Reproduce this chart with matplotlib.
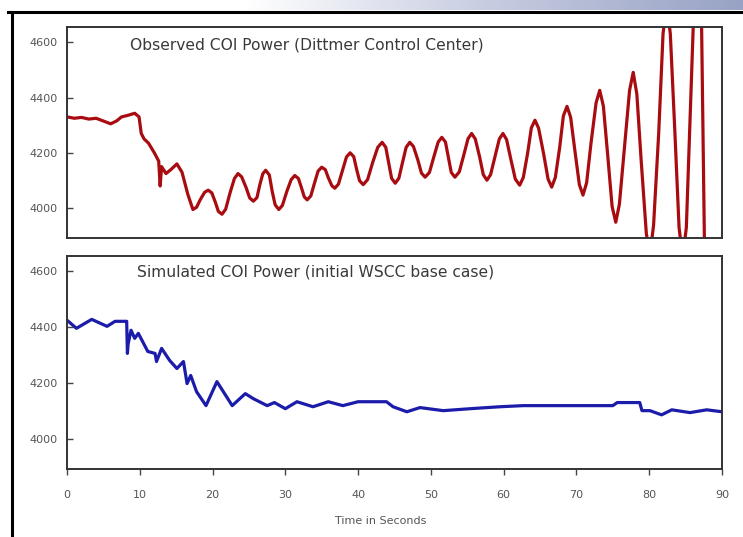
import matplotlib
matplotlib.use("Agg")
import matplotlib.pyplot as plt
from matplotlib.colors import LinearSegmentedColormap
import numpy as np

# ---- Data ----
obs_t = [0, 1, 2, 3, 4, 5, 6, 6.8, 7.5, 8.3, 9.3, 9.9, 10.2, 10.6, 11.2, 12.0, 12.6, 12.8, 13.0,
         13.6, 14.3, 15.1, 15.8, 16.6, 17.3, 17.8, 18.3, 18.9, 19.4, 19.9, 20.4, 20.8, 21.3,
         21.8, 22.4, 23.0, 23.5, 24.0, 24.6, 25.1, 25.6, 26.1, 26.5, 26.9, 27.3, 27.8, 28.2,
         28.6, 29.1, 29.6, 30.2, 30.8, 31.3, 31.8, 32.2, 32.6, 33.0, 33.5, 34.0, 34.5, 35.0,
         35.5, 35.9, 36.4, 36.8, 37.3, 37.9, 38.4, 38.9, 39.4, 39.8, 40.2, 40.7, 41.3, 42.0,
         42.7, 43.3, 43.8, 44.2, 44.6, 45.1, 45.6, 46.1, 46.6, 47.1, 47.6, 48.2, 48.7, 49.2,
         49.8, 50.4, 51.0, 51.5, 52.0, 52.4, 52.8, 53.3, 53.9, 54.5, 55.1, 55.6, 56.1, 56.7,
         57.2, 57.7, 58.2, 58.8, 59.4, 59.9, 60.4, 61.0, 61.6, 62.2, 62.7, 63.3, 63.8, 64.3,
         64.8, 65.5, 66.1, 66.6, 67.1, 67.7, 68.2, 68.7, 69.2, 69.8, 70.4, 70.9, 71.4, 72.0,
         72.7, 73.2, 73.7, 74.3, 74.9, 75.4, 75.9, 76.6, 77.3, 77.8, 78.3, 78.9, 79.6, 80.1,
         80.6, 81.3, 81.9, 82.4, 82.9, 83.5, 84.1, 84.6, 85.1, 86.3, 87.1, 87.6]
obs_p = [4330, 4325, 4328, 4322, 4325, 4315, 4305, 4315, 4330, 4335, 4343, 4330, 4270, 4250, 4235,
         4200, 4170, 4080, 4150, 4125, 4140, 4160, 4130, 4050, 3995, 4003, 4030, 4057, 4065,
         4055, 4020, 3988, 3978, 3996, 4055, 4107, 4125, 4113, 4075, 4037, 4025, 4038, 4085,
         4124, 4137, 4120, 4060, 4012, 3995, 4010, 4060, 4103, 4118, 4107, 4075, 4041, 4030,
         4044, 4090, 4134, 4148, 4139, 4110, 4081, 4072, 4087, 4140, 4185, 4200, 4186, 4140,
         4099, 4085, 4103, 4165, 4220, 4238, 4220, 4165, 4108, 4090, 4108, 4165, 4220, 4238,
         4223, 4175, 4127, 4112, 4129, 4185, 4239, 4256, 4239, 4185, 4129, 4112, 4131, 4190,
         4251, 4270, 4250, 4185, 4121, 4101, 4121, 4185, 4250, 4270, 4248, 4175, 4105, 4083,
         4111, 4200, 4290, 4318, 4289, 4195, 4105, 4076, 4111, 4220, 4333, 4368, 4329, 4205,
         4085, 4047, 4092, 4235, 4381, 4426, 4369, 4190, 4006, 3949, 4014, 4220, 4426, 4491,
         4412, 4170, 3909, 3830, 3939, 4270, 4631, 4740, 4630, 4290, 3930, 3820, 3930, 4850,
         4850, 3850]

sim_t = [0, 1.3, 3.4, 5.5, 6.6, 8.2, 8.3, 8.4, 8.8, 9.3, 9.8, 11.1, 12.1, 12.3, 13.0, 14.1, 15.1,
         16.0, 16.5, 17.0, 17.8, 19.1, 20.6, 22.7, 24.5, 25.6, 27.5, 28.5, 30.0, 31.6, 33.8,
         35.9, 37.9, 40.0, 43.9, 44.8, 46.7, 48.5, 51.7, 55.4, 57.7, 59.5, 62.7, 75.0, 75.6,
         78.7, 79.0, 80.1, 81.7, 83.1, 85.6, 87.9, 90.0]
sim_p = [4425, 4396, 4428, 4403, 4421, 4421, 4306, 4340, 4389, 4360, 4378, 4313, 4306, 4277, 4324,
         4281, 4252, 4277, 4198, 4227, 4169, 4119, 4205, 4119, 4162, 4144, 4119, 4130, 4108,
         4133, 4115, 4133, 4119, 4133, 4133, 4115, 4097, 4112, 4101, 4108, 4112, 4115, 4119,
         4119, 4130, 4130, 4101, 4101, 4086, 4104, 4094, 4104, 4097]

obs_title = "Observed COI Power (Dittmer Control Center)"
sim_title = "Simulated COI Power (initial WSCC base case)"
x_label = "Time in Seconds"
y_ticks = [4000, 4200, 4400, 4600]
x_ticks = [0, 10, 20, 30, 40, 50, 60, 70, 80, 90]

W, H = 743, 537
fig = plt.figure(figsize=(W / 100, H / 100), dpi=100)
fig.patch.set_facecolor("white")

# slide decorations: gradient bar top-right and black frame
grad = np.linspace(0, 1, 256).reshape(1, -1)
gax = fig.add_axes([245 / W, 1 - 10 / H, 1 - 245 / W, 10 / H])
cm = LinearSegmentedColormap.from_list("g", ["#ffffff", "#c5cbe0", "#98a2c4"])
gax.imshow(grad, aspect="auto", cmap=cm, extent=[0, 1, 0, 1])
gax.set_axis_off()
fig.add_artist(plt.Line2D([8 / W, 1], [1 - 12 / H, 1 - 12 / H], color="black", lw=2.2,
                          transform=fig.transFigure))
fig.add_artist(plt.Line2D([12 / W, 12 / W], [0, 1 - 12 / H], color="black", lw=2.2,
                          transform=fig.transFigure))

left = 67 / W
width = (722 - 67) / W
ax1 = fig.add_axes([left, 1 - 238 / H, width, 211 / H])
ax2 = fig.add_axes([left, 1 - 469 / H, width, 213 / H])

txt_col = "#3a3a3a"
for ax in (ax1, ax2):
    ax.set_xlim(0, 90)
    ax.set_ylim(3892, 4655)
    ax.set_yticks(y_ticks)
    ax.set_yticklabels([str(v) for v in y_ticks])
    ax.tick_params(axis="y", direction="in", length=4, width=1, color="#444444",
                   labelsize=8, labelcolor="#555555", pad=7)
    for s in ax.spines.values():
        s.set_color("#333333")
        s.set_linewidth(1.4)

ax1.set_xticks([])
ax2.set_xticks(x_ticks)
ax2.set_xticklabels([str(v) for v in x_ticks])
ax2.tick_params(axis="x", direction="out", length=4, width=1, color="#444444",
                labelsize=8, labelcolor="#555555", pad=11)

ax1.plot(obs_t, obs_p, color="#a80c10", lw=2.3, solid_joinstyle="round")
ax2.plot(sim_t, sim_p, color="#1c1caa", lw=2.3, solid_joinstyle="round")

ax1.text(0.096, 0.915, obs_title, transform=ax1.transAxes, fontsize=11.2, color=txt_col,
         va="center", ha="left")
ax2.text(0.107, 0.925, sim_title, transform=ax2.transAxes, fontsize=11.2, color=txt_col,
         va="center", ha="left")
fig.text(381 / W, 1 - 521 / H, x_label, fontsize=8, color="#555555", ha="center", va="center")

fig.savefig("out.png", dpi=100)
